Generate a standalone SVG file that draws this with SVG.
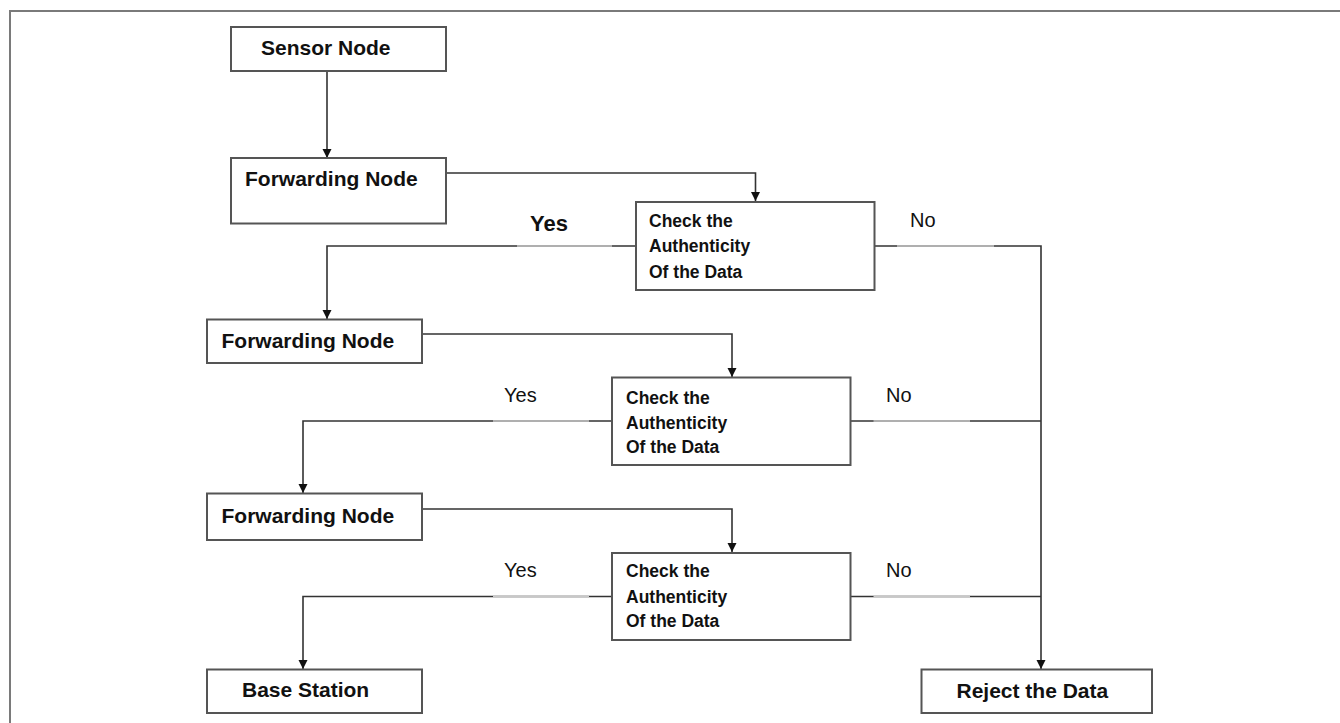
<svg xmlns="http://www.w3.org/2000/svg" width="1340" height="723" viewBox="0 0 1340 723">
<defs>
<style>
.box{fill:#fff;stroke:#555;stroke-width:2}
.node{font-family:"Liberation Sans",Arial,sans-serif;font-weight:bold;font-size:21px;fill:#111}
.chk{font-family:"Liberation Sans",Arial,sans-serif;font-weight:bold;font-size:17.5px;fill:#111}
.lbl{font-family:"Liberation Sans",Arial,sans-serif;font-size:20px;fill:#111}
.yesb{font-family:"Liberation Sans",Arial,sans-serif;font-weight:bold;font-size:22px;fill:#111}
.ln{fill:none;stroke:#333;stroke-width:1.6}
.lt{fill:none;stroke:#c8c8c8;stroke-width:1.6}
</style>
<marker id="arr" viewBox="0 0 10 10" refX="10" refY="5" markerWidth="9" markerHeight="10" markerUnits="userSpaceOnUse" orient="auto">
<path d="M0,0 L10,5 L0,10 z" fill="#111"/>
</marker>
</defs>
<rect width="1340" height="723" fill="#fff"/>
<path d="M10,723 V11 H1340" fill="none" stroke="#7a7a7a" stroke-width="2"/>

<g id="connectors">
<path class="ln" d="M327,71 V158" marker-end="url(#arr)"/>
<path class="ln" d="M446,173 H755.5 V201" marker-end="url(#arr)"/>
<path class="ln" d="M636,246 H327 V319" marker-end="url(#arr)"/>
<path class="lt" d="M612,246 H517"/>
<path class="ln" d="M874.5,246 H1041 V669" marker-end="url(#arr)"/>
<path class="lt" d="M897,246 H994"/>
<path class="ln" d="M422,334 H732 V377" marker-end="url(#arr)"/>
<path class="ln" d="M612,421 H303 V493" marker-end="url(#arr)"/>
<path class="lt" d="M589,421 H493"/>
<path class="ln" d="M850.5,421 H1041"/>
<path class="lt" d="M873.5,421 H970"/>
<path class="ln" d="M422,509 H732 V552" marker-end="url(#arr)"/>
<path class="ln" d="M612,596.5 H303 V669" marker-end="url(#arr)"/>
<path class="lt" d="M589,596.5 H493"/>
<path class="ln" d="M850.5,596.5 H1041"/>
<path class="lt" d="M873.5,596.5 H970"/>
<text class="yesb" x="530" y="231">Yes</text>
<text class="lbl" x="910" y="227">No</text>
<text class="lbl" x="504" y="402">Yes</text>
<text class="lbl" x="886" y="402">No</text>
<text class="lbl" x="504" y="577">Yes</text>
<text class="lbl" x="886" y="577">No</text>
</g>

<g id="sensor-node">
<rect class="box" x="231" y="27" width="215" height="44"/>
<text class="node" x="261" y="55">Sensor Node</text>
</g>
<g id="forwarding-node-1">
<rect class="box" x="231" y="158" width="215" height="65.5"/>
<text class="node" x="245" y="186">Forwarding Node</text>
</g>
<g id="check-1">
<rect class="box" x="636" y="202" width="238.5" height="88"/>
<text class="chk" x="649" y="227">Check the</text>
<text class="chk" x="649" y="252">Authenticity</text>
<text class="chk" x="649" y="277.5">Of the Data</text>
</g>
<g id="forwarding-node-2">
<rect class="box" x="207" y="319.5" width="215" height="43.5"/>
<text class="node" x="221.5" y="347.5">Forwarding Node</text>
</g>
<g id="check-2">
<rect class="box" x="612" y="377.5" width="238.5" height="87.5"/>
<text class="chk" x="626" y="404">Check the</text>
<text class="chk" x="626" y="429">Authenticity</text>
<text class="chk" x="626" y="453">Of the Data</text>
</g>
<g id="forwarding-node-3">
<rect class="box" x="207" y="493.5" width="215" height="46.5"/>
<text class="node" x="221.5" y="522.5">Forwarding Node</text>
</g>
<g id="check-3">
<rect class="box" x="612" y="553" width="238.5" height="87"/>
<text class="chk" x="626" y="577">Check the</text>
<text class="chk" x="626" y="602.5">Authenticity</text>
<text class="chk" x="626" y="627">Of the Data</text>
</g>
<g id="base-station">
<rect class="box" x="207" y="669.5" width="215" height="43.5"/>
<text class="node" x="242" y="697">Base Station</text>
</g>
<g id="reject-data">
<rect class="box" x="921.5" y="669.5" width="230.5" height="43.5"/>
<text class="node" x="956.5" y="698">Reject the Data</text>
</g>
</svg>
